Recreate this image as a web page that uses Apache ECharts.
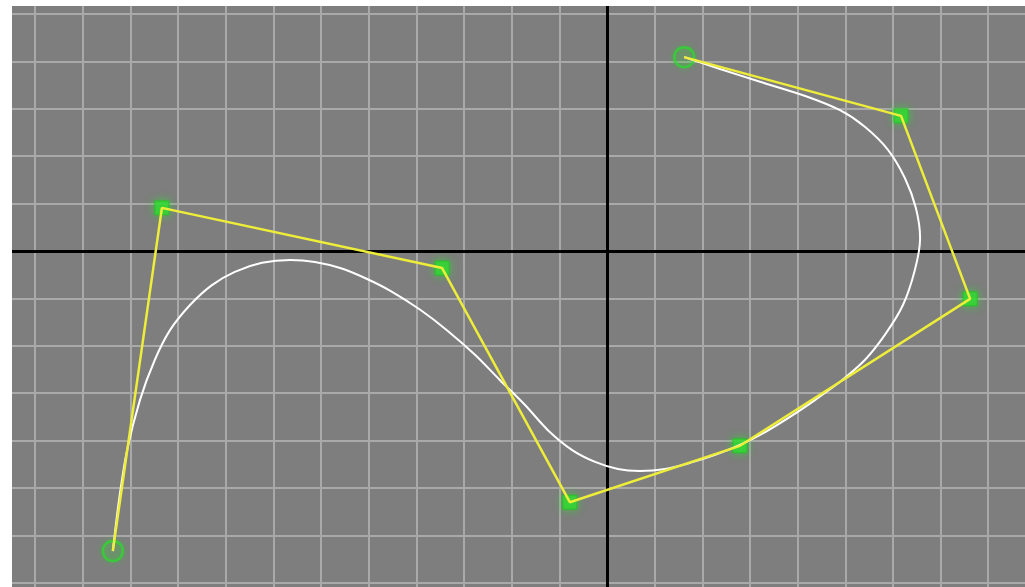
<!DOCTYPE html>
<html>
<head>
<meta charset="utf-8">
<script src="https://cdn.jsdelivr.net/npm/echarts@6/dist/echarts.min.js"></script>
<style>html,body{margin:0;padding:0;background:#fff}#c{width:1025px;height:587px}</style>
</head>
<body>
<div id="c"></div>
<script>
// Control polygon points [x, y] in grid units
const controlPoints = [
  [-10.37, -6.33], [-9.34, 0.91], [-3.46, -0.36], [-0.78, -5.30],
  [2.79, -4.11], [7.62, -1.01], [6.17, 2.85], [1.62, 4.09]
];
// End points (drawn as circles)
const endPoints = [[-10.37, -6.33], [1.62, 4.09]];
// Inner control points (drawn as squares)
const innerPoints = controlPoints.slice(1, -1);
// White curve
const curvePoints = [
  [-10.37, -6.33], [-10.24, -5.25], [-10.07, -4.20], [-9.80, -3.14], [-9.49, -2.30],
  [-9.17, -1.67], [-8.75, -1.14], [-8.29, -0.72], [-7.81, -0.44], [-7.24, -0.25],
  [-6.65, -0.19], [-6.13, -0.23], [-5.60, -0.36], [-5.08, -0.57], [-4.51, -0.86],
  [-3.92, -1.24], [-3.36, -1.67], [-2.77, -2.19], [-2.25, -2.72], [-1.72, -3.25],
  [-1.24, -3.78], [-0.73, -4.20], [-0.25, -4.45], [0.23, -4.60], [0.69, -4.64],
  [1.22, -4.60], [1.74, -4.47], [2.27, -4.30], [2.79, -4.09], [3.32, -3.82],
  [3.84, -3.50], [4.37, -3.14], [4.89, -2.76], [5.41, -2.30], [5.83, -1.77],
  [6.21, -1.14], [6.46, -0.40], [6.57, 0.27], [6.48, 0.91], [6.25, 1.54],
  [5.90, 2.13], [5.41, 2.62], [4.89, 2.97], [4.16, 3.27], [3.21, 3.57],
  [2.37, 3.84], [1.62, 4.09]
];
const xRange = [-13, 9];
const yRange = [-8, 6];

const chart = echarts.init(document.getElementById('c'));
chart.setOption({
  animation: false,
  backgroundColor: '#ffffff',
  grid: {
    left: -12.5, right: -10.9, top: -33.4, bottom: -43.2,
    outerBoundsMode: 'none', containLabel: false,
    show: true, backgroundColor: '#7e7e7e', borderWidth: 0
  },
  xAxis: {
    type: 'value', min: xRange[0], max: xRange[1], interval: 1,
    axisLine: { show: true, onZero: true, lineStyle: { color: '#000', width: 3 } },
    axisTick: { show: false }, axisLabel: { show: false },
    splitLine: { show: true, lineStyle: { color: '#a9a9a9', width: 2 } }
  },
  yAxis: {
    type: 'value', min: yRange[0], max: yRange[1], interval: 1,
    axisLine: { show: true, onZero: true, lineStyle: { color: '#000', width: 3 } },
    axisTick: { show: false }, axisLabel: { show: false },
    splitLine: { show: true, lineStyle: { color: '#a9a9a9', width: 2 } }
  },
  series: [
    {
      type: 'scatter', data: innerPoints, symbol: 'rect', symbolSize: 14, z: 2,
      itemStyle: { color: '#33d833', borderColor: '#22c022', borderWidth: 1, shadowBlur: 8, shadowColor: 'rgba(40,230,40,0.8)' }
    },
    {
      type: 'scatter', data: endPoints, symbol: 'circle', symbolSize: 20, z: 2,
      itemStyle: { color: 'rgba(60,220,60,0.15)', borderColor: '#2fd62f', borderWidth: 2.5, shadowBlur: 6, shadowColor: 'rgba(40,220,40,0.6)' }
    },
    {
      type: 'line', data: curvePoints, smooth: 0.3, showSymbol: false, z: 3,
      lineStyle: { color: '#ffffff', width: 2 }
    },
    {
      type: 'line', data: controlPoints, smooth: false, showSymbol: false, z: 4,
      lineStyle: { color: '#eded3a', width: 2.5 }
    }
  ],
  graphic: [
    { type: 'rect', left: 0, top: 0, z: 100, shape: { width: 12, height: 587 }, style: { fill: '#ffffff' } },
    { type: 'rect', left: 0, top: 0, z: 100, shape: { width: 1025, height: 6 }, style: { fill: '#ffffff' } }
  ]
});
</script>
</body>
</html>
